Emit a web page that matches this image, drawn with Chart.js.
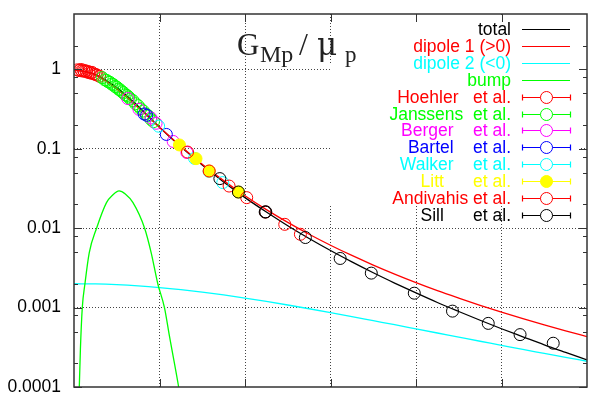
<!DOCTYPE html>
<html>
<head>
<meta charset="utf-8">
<script src="https://cdn.jsdelivr.net/npm/chart.js@4"></script>
<style>
  html, body { margin: 0; padding: 0; background: #fff; }
  canvas { display: block; }
</style>
</head>
<body>
<canvas id="gmChart" width="594" height="394"></canvas>
<script>
// x = Q (GeV), y = G_Mp / mu_p
const qCurve = [0, 0.25, 0.5, 0.75, 1, 1.25, 1.5, 1.75, 2, 2.25, 2.5, 2.75, 3, 3.25, 3.5, 3.75, 4, 4.25, 4.5, 4.75, 5, 5.25, 5.5, 5.75, 6];
const totalCurve = [0.998, 0.861, 0.594, 0.3455, 0.1872, 0.106, 0.0626, 0.0383, 0.0243, 0.016, 0.01076, 0.00743, 0.00524, 0.00377, 0.00275, 0.00204, 0.00153, 0.00116, 0.000894, 0.000693, 0.000542, 0.000429, 0.00034, 0.000273, 0.00022];
const dipole1Curve = [1, 0.854, 0.567, 0.331, 0.187, 0.1077, 0.0641, 0.0398, 0.0257, 0.01716, 0.01184, 0.0084, 0.00611, 0.00454, 0.00344, 0.00265, 0.00207, 0.00164, 0.00132, 0.00107, 0.000877, 0.000726, 0.000605, 0.000509, 0.000431];
const dipole2Curve = [0.002, 0.001986, 0.001943, 0.001876, 0.001787, 0.001682, 0.001566, 0.001444, 0.001319, 0.001197, 0.001079, 0.000968, 0.000865, 0.000771, 0.000685, 0.000609, 0.00054, 0.000479, 0.000425, 0.000377, 0.000335, 0.000297, 0.000265, 0.000236, 0.000211];

const qBump = [0.04, 0.062, 0.075, 0.097, 0.128, 0.178, 0.264, 0.38, 0.45, 0.527, 0.6, 0.69, 0.826, 0.903, 0.98, 1.058, 1.116, 1.224, 1.3];
const bumpCurve = [0.00002, 0.0001, 0.0003, 0.001, 0.002, 0.0049, 0.01, 0.021, 0.026, 0.0295, 0.027, 0.021, 0.01, 0.0049, 0.002, 0.001, 0.00044, 0.0001, 0.00003];

const qHoehler = [0.04, 0.06, 0.08, 0.09, 0.11, 0.12, 0.14, 0.15, 0.17, 0.18, 0.2, 0.21, 0.23, 0.25, 0.27, 0.3];
const gHoehler = [0.99, 0.97, 1.0, 0.96, 0.98, 0.95, 0.96, 0.93, 0.94, 0.91, 0.9, 0.92, 0.88, 0.87, 0.85, 0.82];
const qJanssens = [0.33, 0.36, 0.38, 0.4, 0.42, 0.44, 0.46, 0.48, 0.5, 0.52, 0.54, 0.56, 0.58, 0.6, 0.62, 0.64, 0.66, 0.69, 0.72, 0.75, 0.78, 0.81, 0.84, 0.87, 0.9, 0.93];
const gJanssens = [0.79, 0.74, 0.73, 0.7, 0.69, 0.655, 0.645, 0.61, 0.6, 0.565, 0.555, 0.525, 0.51, 0.48, 0.47, 0.45, 0.425, 0.405, 0.37, 0.35, 0.32, 0.3, 0.275, 0.26, 0.235, 0.22];
const qBerger = [0.63, 0.76, 0.9, 0.96, 1.16, 1.32];
const gBerger = [0.43, 0.315, 0.245, 0.21, 0.124, 0.09];
const qBartel = [0.82, 0.85, 1.08];
const gBartel = [0.275, 0.265, 0.152];
const qWalker = [0.99, 1.41, 1.58, 1.74];
const gWalker = [0.193, 0.076, 0.052, 0.0376];
const qLitt = [1.233, 1.427, 1.581, 1.922];
const gLitt = [0.112, 0.0753, 0.0526, 0.0286];
const qAndivahis = [1.328, 1.581, 1.814, 2.02, 2.24, 2.465, 2.648];
const gAndivahis = [0.0912, 0.0526, 0.034, 0.0243, 0.016, 0.0112, 0.0084];
const qSill = [1.706, 1.923, 2.236, 2.243, 2.706, 3.113, 3.477, 3.98, 4.427, 4.845, 5.217, 5.605];
const gSill = [0.0422, 0.0286, 0.016, 0.0161, 0.00764, 0.00416, 0.00272, 0.00152, 0.000903, 0.000633, 0.000457, 0.000356];

const xGridTicks = [1, 2, 3, 4, 5];
const yMajorTicks = [0.0001, 0.001, 0.01, 0.1, 1];
const yTickLabels = ['0.0001', '0.001', '0.01', '0.1', '1'];
const yMinorTicks = [0.0002, 0.0005, 0.0008, 0.002, 0.005, 0.008, 0.02, 0.05, 0.08, 0.2, 0.5, 0.8, 2];

const pts = (xs, ys) => xs.map((x, i) => ({ x: x, y: ys[i] }));

function curve(label, color, xs, ys) {
  return {
    label, data: pts(xs, ys), showLine: true, borderColor: color, borderWidth: 1.3,
    pointRadius: 0, cubicInterpolationMode: 'monotone', capBezierPoints: false, fill: false,
    legendColor: color, isCurve: true
  };
}
function points(label, color, xs, ys, filled) {
  return {
    label, data: pts(xs, ys), showLine: false, pointStyle: 'circle', pointRadius: 6,
    pointBorderWidth: 1, pointBorderColor: color,
    pointBackgroundColor: filled ? color : 'rgba(0,0,0,0)',
    legendColor: color, filled: !!filled
  };
}

const datasets = [
  curve('total', '#000000', qCurve, totalCurve),
  curve('dipole 1 (>0)', '#ff0000', qCurve, dipole1Curve),
  curve('dipole 2 (<0)', '#00ffff', qCurve, dipole2Curve),
  curve('bump', '#00ff00', qBump, bumpCurve),
  points('Hoehler   et al.', '#ff0000', qHoehler, gHoehler),
  points('Janssens  et al.', '#00ff00', qJanssens, gJanssens),
  points('Berger    et al.', '#ff00ff', qBerger, gBerger),
  points('Bartel    et al.', '#0000ff', qBartel, gBartel),
  points('Walker    et al.', '#00ffff', qWalker, gWalker),
  points('Litt      et al.', '#ffff00', qLitt, gLitt, true),
  points('Andivahis et al.', '#ff0000', qAndivahis, gAndivahis),
  points('Sill      et al.', '#000000', qSill, gSill)
];
// later entries are drawn on top, like gnuplot
datasets.forEach((d, i) => { d.order = datasets.length - i; });

const isMajor = v => yMajorTicks.some(m => Math.abs(m - v) / m < 1e-6);

const frame = {
  id: 'frame',
  beforeDatasetsDraw(chart) {
    // opaque key area hides the grid behind it
    const { ctx } = chart;
    ctx.save();
    ctx.fillStyle = '#fff';
    ctx.fillRect(338, 17, 242, 189);
    ctx.fillRect(330, 64, 10, 142);
    ctx.restore();
  },
  afterDraw(chart) {
    const { ctx, chartArea: a, scales: { x, y } } = chart;
    const seg = (x1, y1, x2, y2) => { ctx.beginPath(); ctx.moveTo(x1, y1); ctx.lineTo(x2, y2); ctx.stroke(); };
    ctx.save();
    ctx.strokeStyle = '#333';
    ctx.lineWidth = 1;
    yMajorTicks.forEach(v => {
      const py = Math.round(y.getPixelForValue(v)) + 0.5;
      seg(a.left, py, a.left + 8, py);
      seg(a.right - 8, py, a.right, py);
    });
    yMinorTicks.forEach(v => {
      const py = Math.round(y.getPixelForValue(v)) + 0.5;
      seg(a.left, py, a.left + 4, py);
      seg(a.right - 4, py, a.right, py);
    });
    xGridTicks.forEach(v => {
      const px = Math.round(x.getPixelForValue(v)) + 0.5;
      seg(px, a.top, px, a.top + 8);
      seg(px, a.bottom - 8, px, a.bottom);
    });
    ctx.lineWidth = 1.5;
    ctx.strokeRect(a.left, a.top, a.right - a.left, a.bottom - a.top);

    // title  G_Mp / mu_p
    ctx.fillStyle = '#222';
    ctx.textBaseline = 'alphabetic';
    ctx.textAlign = 'left';
    ctx.font = '31px "Liberation Serif"';
    ctx.fillText('G', 237, 55);
    ctx.font = '24px "Liberation Serif"';
    ctx.fillText('Mp', 260, 62);
    ctx.font = '32px "Liberation Serif"';
    ctx.fillText('/', 299, 55);
    ctx.font = '31px "DejaVu Serif"';
    ctx.fillText('\u03bc', 317, 55);
    ctx.font = '23px "Liberation Serif"';
    ctx.fillText('p', 345, 62);

    // key
    ctx.font = '17.5px "Liberation Sans"';
    ctx.textAlign = 'right';
    ctx.textBaseline = 'middle';
    chart.data.datasets.forEach((d, i) => {
      const yy = Math.round(29 + i * 16.9) + 0.5;
      ctx.fillStyle = d.legendColor;
      ctx.fillText(d.label, 511, yy + 1);
      ctx.strokeStyle = d.legendColor;
      ctx.lineWidth = 1.2;
      seg(522, yy, 570, yy);
      if (!d.isCurve) {
        seg(522.5, yy - 3, 522.5, yy + 3);
        seg(570.5, yy - 3, 570.5, yy + 3);
        ctx.beginPath();
        ctx.arc(546.5, yy, 6, 0, Math.PI * 2);
        ctx.fillStyle = d.filled ? d.legendColor : '#fff';
        ctx.fill();
        ctx.lineWidth = 1;
        ctx.stroke();
      }
    });
    ctx.restore();
  }
};

new Chart(document.getElementById('gmChart'), {
  type: 'scatter',
  data: { datasets },
  options: {
    responsive: false,
    animation: false,
    layout: { padding: { top: 14, right: 4, left: 0, bottom: 0 } },
    plugins: { legend: { display: false }, tooltip: { enabled: false } },
    scales: {
      x: {
        type: 'linear', min: 0, max: 6,
        ticks: { display: false, stepSize: 1 },
        grid: {
          drawTicks: false, lineWidth: 1,
          color: c => (c.tick && xGridTicks.includes(c.tick.value)) ? '#444' : 'rgba(0,0,0,0)'
        },
        border: { display: false, dash: [1, 2] },
        afterFit: s => { s.height = 6; s.paddingLeft = 0; s.paddingRight = 0; }
      },
      y: {
        type: 'logarithmic', min: 0.0001, max: 5,
        afterBuildTicks: s => {
          s.ticks = yMajorTicks.concat(yMinorTicks).sort((a, b) => a - b).map(v => ({ value: v }));
        },
        ticks: {
          autoSkip: false, padding: 13, color: '#000',
          font: { family: 'Liberation Sans', size: 17.5 },
          callback: v => {
            const k = yMajorTicks.findIndex(m => Math.abs(m - v) / m < 1e-6);
            return k >= 0 ? yTickLabels[k] : '';
          }
        },
        grid: {
          drawTicks: false, lineWidth: 1,
          color: c => (c.tick && isMajor(c.tick.value) && c.tick.value > 0.0001) ? '#444' : 'rgba(0,0,0,0)'
        },
        border: { display: false, dash: [1, 2] },
        afterFit: s => { s.width = 74; s.paddingTop = 0; s.paddingBottom = 0; }
      }
    }
  },
  plugins: [frame]
});
</script>
</body>
</html>
